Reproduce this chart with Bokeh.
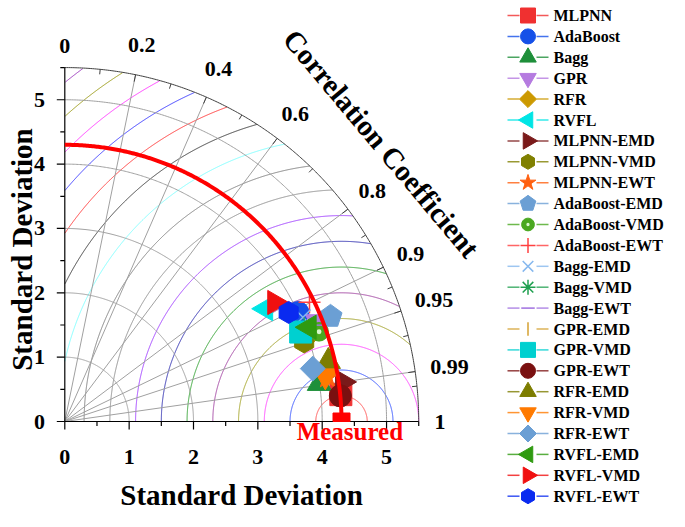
import numpy as np
from bokeh.plotting import figure
from bokeh.core.properties import value
from bokeh.embed import file_html
from bokeh.resources import INLINE

# ---------------- data ----------------
ref_std = 4.3
max_std = 5.5
names = ["MLPNN", "AdaBoost", "Bagg", "GPR", "RFR", "RVFL",
         "MLPNN-EMD", "MLPNN-VMD", "MLPNN-EWT",
         "AdaBoost-EMD", "AdaBoost-VMD", "AdaBoost-EWT",
         "Bagg-EMD", "Bagg-VMD", "Bagg-EWT",
         "GPR-EMD", "GPR-VMD", "GPR-EWT",
         "RFR-EMD", "RFR-VMD", "RFR-EWT",
         "RVFL-EMD", "RVFL-VMD", "RVFL-EWT"]
std_dev = [4.31, 4.00, 4.00, 4.22, 3.93, 3.58,
           4.36, 3.92, 4.14,
           4.44, 4.19, 4.23,
           4.04, 3.99, 4.13,
           4.29, 3.92, 4.30,
           4.20, 4.11, 3.94,
           4.07, 3.75, 3.87]
corr = [0.9953, 0.906, 0.989, 0.930, 0.946, 0.872,
        0.990, 0.949, 0.986,
        0.930, 0.943, 0.899,
        0.916, 0.932, 0.932,
        0.980, 0.935, 0.9957,
        0.975, 0.985, 0.978,
        0.933, 0.870, 0.899]

corr_labels = [0, 0.2, 0.4, 0.6, 0.8, 0.9, 0.95, 0.99, 1]
corr_label_text = ["0", "0.2", "0.4", "0.6", "0.8", "0.9", "0.95", "0.99", "1"]
corr_minor = [0.1, 0.3, 0.5, 0.7, 0.85, 0.925, 0.97, 0.995]
corr_grid = [0.2, 0.4, 0.6, 0.8, 0.9, 0.95, 0.99]
std_ticks = [0, 1, 2, 3, 4, 5]
std_tick_text = ["0", "1", "2", "3", "4", "5"]
std_minor = [0.5, 1.5, 2.5, 3.5, 4.5, 5.5]
std_grid = [1, 2, 3, 4, 5]
rms_levels = [0.4, 0.8, 1.2, 1.6, 2.0, 2.4, 2.8, 3.2, 3.6, 4.0, 4.4, 4.8, 5.2, 5.6, 6.0, 6.4, 6.8]

# ---------------- styles ----------------
rms_colors = ["#ff5050", "#3050ff", "#ff40ff", "#a0a020", "#a040a0", "#30a030",
              "#3030b0", "#a040ff", "#909090", "#808080", "#80ffff", "#404040",
              "#ff4040", "#4040ff", "#ff40ff", "#a0a020", "#a040c0"]
colors = ["#f03030", "#1550e8", "#1e8f3a", "#b57be0", "#cc9900", "#00e5e5",
          "#7a1a1a", "#808000", "#ff6010",
          "#6b9fd4", "#4aa820", "#ff4040",
          "#86b8ee", "#20a050", "#a070e0",
          "#d4a030", "#00d0d0", "#7a1010",
          "#7d7d00", "#ff7a00", "#6b9fd4",
          "#2f9a10", "#f01010", "#0a2af0"]
markers = ["square", "circle", "triangle", "inverted_triangle", "diamond", "triangle_left",
           "triangle_right", "hex", "star",
           "pentagon", "sphere", "cross",
           "x", "asterisk", "dash",
           "vbar", "square", "circle",
           "triangle", "inverted_triangle", "diamond",
           "triangle_left", "triangle_right", "hex"]
marker_map = {
    "square": ("square", 0.0, 1.0), "circle": ("circle", 0.0, 1.0),
    "triangle": ("triangle", 0.0, 1.1), "inverted_triangle": ("inverted_triangle", 0.0, 1.1),
    "diamond": ("square", np.pi / 4, 0.8), "triangle_left": ("triangle", np.pi / 2, 1.1),
    "triangle_right": ("triangle", -np.pi / 2, 1.1), "hex": ("hex", np.pi / 2, 1.0),
    "star": ("star", 0.0, 1.1), "cross": ("cross", 0.0, 1.0), "x": ("x", 0.0, 1.0),
    "asterisk": ("asterisk", 0.0, 1.0), "dash": ("dash", 0.0, 0.9), "vbar": ("dash", np.pi / 2, 0.9),
}
line_markers = {"cross", "x", "asterisk", "dash", "vbar"}

FONT = "Liberation Serif"

# reference-pixel <-> data mapping
S = 64.35
X0, Y0 = 64.3, 421.0


def dx(px):
    return (px - X0) / S


def dy(py):
    return (Y0 - py) / S


W, H = 669, 511
p = figure(width=W, height=H, x_range=(dx(0), dx(W)), y_range=(dy(H), dy(0)),
           min_border=0, x_axis_type=None, y_axis_type=None, toolbar_location=None,
           output_backend="svg", outline_line_color=None)
p.grid.visible = False
p.background_fill_color = "white"
p.border_fill_color = "white"


def txt(x, y, t, size, color="black", align="center", baseline="middle", angle=0.0):
    p.text(x=x, y=y, text=t, text_font=value(FONT), text_font_style="bold",
           text_font_size=value(f"{size}px"), text_color=color, text_align=align,
           text_baseline=baseline, angle=angle)


# ---- RMS circles around reference point ----
theta = np.linspace(0, np.pi, 1441)
for R, col in zip(rms_levels, rms_colors):
    xs = ref_std + R * np.cos(theta)
    ys = R * np.sin(theta)
    mask = (xs ** 2 + ys ** 2 <= max_std ** 2) & (xs >= 0)
    p.line(np.where(mask, xs, np.nan), np.where(mask, ys, np.nan), line_color=col, line_width=1)

# ---- standard deviation arcs ----
phi = np.linspace(0, np.pi / 2, 300)
for r in std_grid:
    p.line(r * np.cos(phi), r * np.sin(phi), line_color="#a0a0a0", line_width=1)

# ---- correlation rays ----
ang_g = np.arccos(np.array(corr_grid))
p.segment(x0=np.zeros(len(ang_g)), y0=np.zeros(len(ang_g)),
          x1=max_std * np.cos(ang_g), y1=max_std * np.sin(ang_g), line_color="#a0a0a0", line_width=1)

# ---- outer arc ----
p.line(max_std * np.cos(phi), max_std * np.sin(phi), line_color="#404040", line_width=1)
for vals, L in ((corr_labels[1:-1], 7), (corr_minor, 5)):
    a = np.arccos(np.array(vals))
    r1 = max_std - L / S
    p.segment(x0=max_std * np.cos(a), y0=max_std * np.sin(a), x1=r1 * np.cos(a), y1=r1 * np.sin(a),
              line_color="#404040", line_width=1)

# ---- axes ----
p.segment(x0=[0, 0], y0=[0, 0], x1=[max_std, 0], y1=[0, max_std], line_color="black", line_width=1.2)
for vals, L in ((std_ticks, 8), (std_minor, 4.5)):
    v = np.array(vals, dtype=float)
    p.segment(x0=v, y0=np.zeros_like(v), x1=v, y1=np.zeros_like(v) - L / S, line_color="black", line_width=1.2)
    p.segment(x0=np.zeros_like(v), y0=v, x1=np.zeros_like(v) - L / S, y1=v, line_color="black", line_width=1.2)

txt(std_ticks, [dy(456)] * len(std_ticks), std_tick_text, 22)
txt([dx(39)] * len(std_ticks), std_ticks, std_tick_text, 22)

a_lab = np.arccos(np.array(corr_labels, dtype=float))
r_lab = np.array([5.76 + 0.07 * len(t) for t in corr_label_text])
txt(r_lab * np.cos(a_lab), r_lab * np.sin(a_lab), corr_label_text, 22)

txt([dx(241)], [dy(494)], ["Standard Deviation"], 29)
txt([dx(21)], [dy(249)], ["Standard Deviation"], 29, angle=np.pi / 2)
txt([dx(381)], [dy(143)], ["Correlation Coefficient"], 29, angle=-50 * np.pi / 180)


# ---- markers ----
def draw_marker(x, y, i, size):
    m = markers[i]
    c = colors[i]
    if m == "pentagon":
        rr = size * 0.55 / S
        a = np.pi / 2 + np.arange(5) * 2 * np.pi / 5
        p.patch(x + rr * np.cos(a), y + rr * np.sin(a), fill_color=c, line_color=c)
    elif m == "sphere":
        p.scatter([x], [y], marker="circle", size=size * 0.85, fill_color=c, line_color=c)
        p.scatter([x], [y], marker="circle", size=size * 0.22, fill_color="#e8ffe0", line_color=None,
                  fill_alpha=0.9)
    else:
        kind, ang, k = marker_map[m]
        if m in line_markers:
            p.scatter([x], [y], marker=kind, size=size * k, angle=ang, line_color=c, line_width=1.5,
                      fill_color=None)
        else:
            p.scatter([x], [y], marker=kind, size=size * k, angle=ang, fill_color=c, line_color=c)


sd = np.array(std_dev)
cc = np.array(corr)
px = sd * cc
py = sd * np.sin(np.arccos(cc))
for i in range(len(names)):
    draw_marker(px[i], py[i], i, 22)

# reference arc and measured point
p.line(ref_std * np.cos(phi), ref_std * np.sin(phi), line_color="#ff0000", line_width=4)
half = 8.5 / S
p.quad(left=[ref_std - half], right=[ref_std + half], bottom=[0], top=[half], fill_color="#ff0000",
       line_color="#ff0000")
txt([ref_std + 0.13], [dy(431)], ["Measured"], 25, color="#ff0000")

# ---- legend (manual) ----
n = len(names)
ly = [dy(15 + i * 20.9) for i in range(n)]
for i in range(n):
    p.segment(x0=[dx(507), dx(536)], y0=[ly[i], ly[i]], x1=[dx(519), dx(548)], y1=[ly[i], ly[i]],
              line_color=colors[i], line_width=1.5, line_alpha=0.8)
    draw_marker(dx(527.5), ly[i], i, 15)
txt([dx(553)] * n, ly, names, 16, align="left")

open("out.html", "w").write(file_html(p, INLINE))
